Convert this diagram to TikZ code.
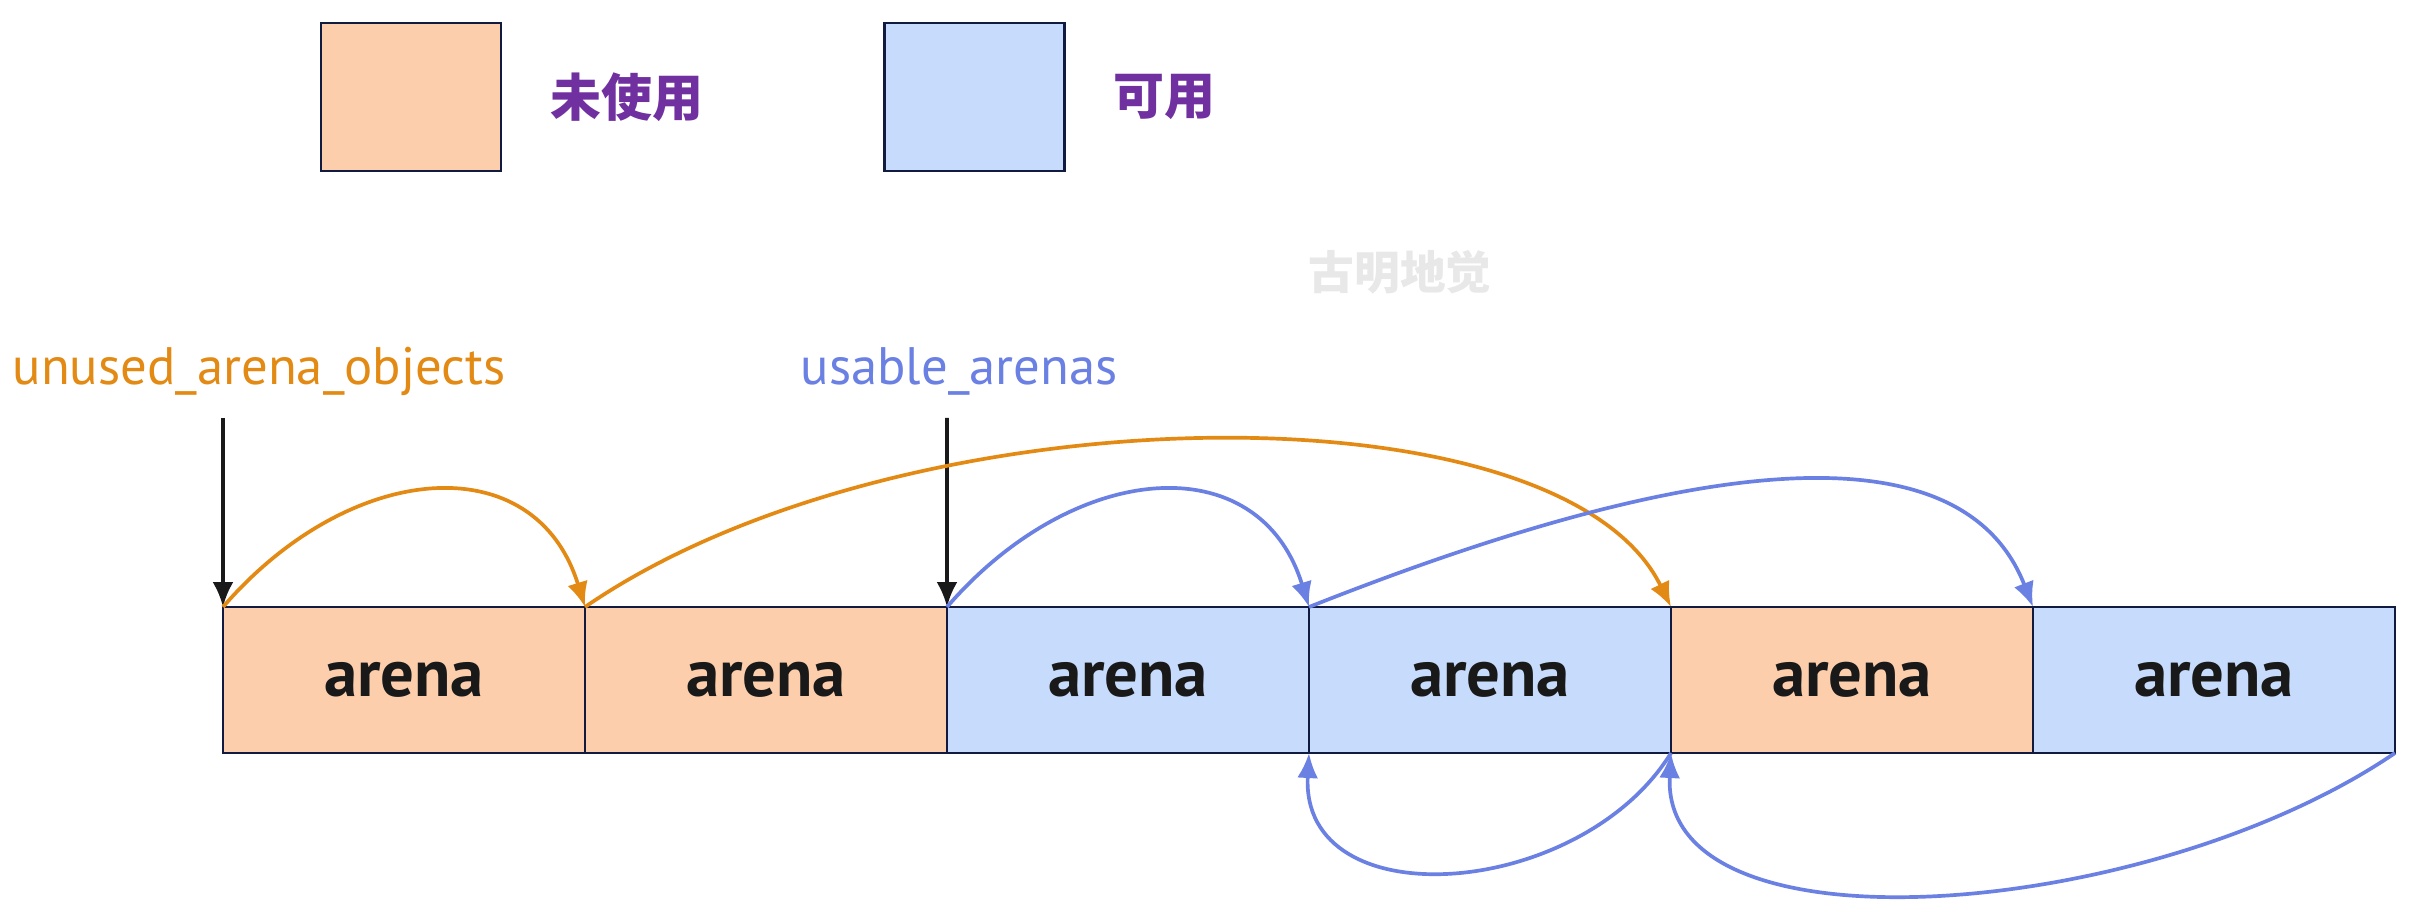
\documentclass[tikz,border=0pt]{standalone}
\usepackage{fontspec}
\setmainfont{PT Sans}
\newfontfamily\cjk{Noto Sans CJK SC}
\usetikzlibrary{arrows.meta, positioning}

\definecolor{unusedfill}{HTML}{FDCEAC}
\definecolor{usablefill}{HTML}{C7DCFC}
\definecolor{boxline}{HTML}{111A3F}
\definecolor{unusedline}{HTML}{E38A15}
\definecolor{usableline}{HTML}{6B80E3}
\definecolor{legpurple}{HTML}{7030A0}
\definecolor{wmgray}{HTML}{E8E8E8}

\begin{document}
\begin{tikzpicture}[
    every node/.style={font=\small},
    arena/.style={draw=boxline,line width=0.6pt,rectangle,minimum width=3.62cm,minimum height=1.46cm,inner sep=0pt,outer sep=0pt,text=black!90,font=\bfseries\fontsize{19}{19}\selectfont},
    legbox/.style={draw=boxline,line width=0.6pt,rectangle,minimum width=1.80cm,minimum height=1.48cm,inner sep=0pt,outer sep=0pt},
    legtxt/.style={inner sep=0pt,text=legpurple,font=\cjk\bfseries\fontsize{14.5}{14.5}\selectfont},
    ptr/.style={inner sep=0pt,anchor=base west,font=\fontsize{15}{15}\selectfont},
    link/.style={line width=1.05pt,-{Latex[length=0.25cm,width=0.21cm]}}
]
\useasboundingbox[fill=white] (0,0) rectangle (24.10,-9.04);

% Legend
\node[legbox, fill=unusedfill] (legU) at (4.11,-0.97) {};
\node[legtxt, right=0.49cm of legU] (legUt) {未使用};
\node[legbox, fill=usablefill] (legA) at (9.745,-0.97) {};
\node[legtxt, right=0.48cm of legA] (legAt) {可用};

% Watermark
\node[inner sep=0pt,text=wmgray,font=\cjk\bfseries\fontsize{13}{13}\selectfont] (wm) at (14.00,-2.72) {古明地觉};

% Pointer labels
\node[ptr, text=unusedline] (lblU) at (0.12,-3.85) {unused\_arena\_objects};
\node[ptr, text=usableline] (lblA) at (8.00,-3.85) {usable\_arenas};
\coordinate (pU) at (2.23,-4.18);
\coordinate (pA) at (9.47,-4.18);

% Arenas
\node[arena, fill=unusedfill, anchor=north west] (a1) at (2.23,-6.07) {arena};
\node[arena, fill=unusedfill, right=0pt of a1] (a2) {arena};
\node[arena, fill=usablefill, right=0pt of a2] (a3) {arena};
\node[arena, fill=usablefill, right=0pt of a3] (a4) {arena};
\node[arena, fill=unusedfill, right=0pt of a4] (a5) {arena};
\node[arena, fill=usablefill, right=0pt of a5] (a6) {arena};

% Pointers
\draw[link, draw=black!90] (pU) -- (a1.north west);
\draw[link, draw=black!90] (pA) -- (a3.north west);

% Unused list
\draw[link, draw=unusedline] (a1.north west) .. controls (3.50,-4.60) and (5.35,-4.45) .. (a2.north west);
\draw[link, draw=unusedline] (a2.north west) .. controls (9.00,-3.90) and (15.60,-3.80) .. (a5.north west);

% Usable list (next)
\draw[link, draw=usableline] (a3.north west) .. controls (10.74,-4.60) and (12.59,-4.45) .. (a4.north west);
\draw[link, draw=usableline] (a4.north west) .. controls (16.80,-4.60) and (19.60,-4.20) .. (a6.north west);

% Usable list (prev)
\draw[link, draw=usableline] (a5.south west) .. controls (15.80,-9.00) and (13.00,-9.20) .. (a4.south west);
\draw[link, draw=usableline] (a6.south east) .. controls (21.50,-9.20) and (16.60,-9.60) .. (a5.south west);

\end{tikzpicture}
\end{document}
